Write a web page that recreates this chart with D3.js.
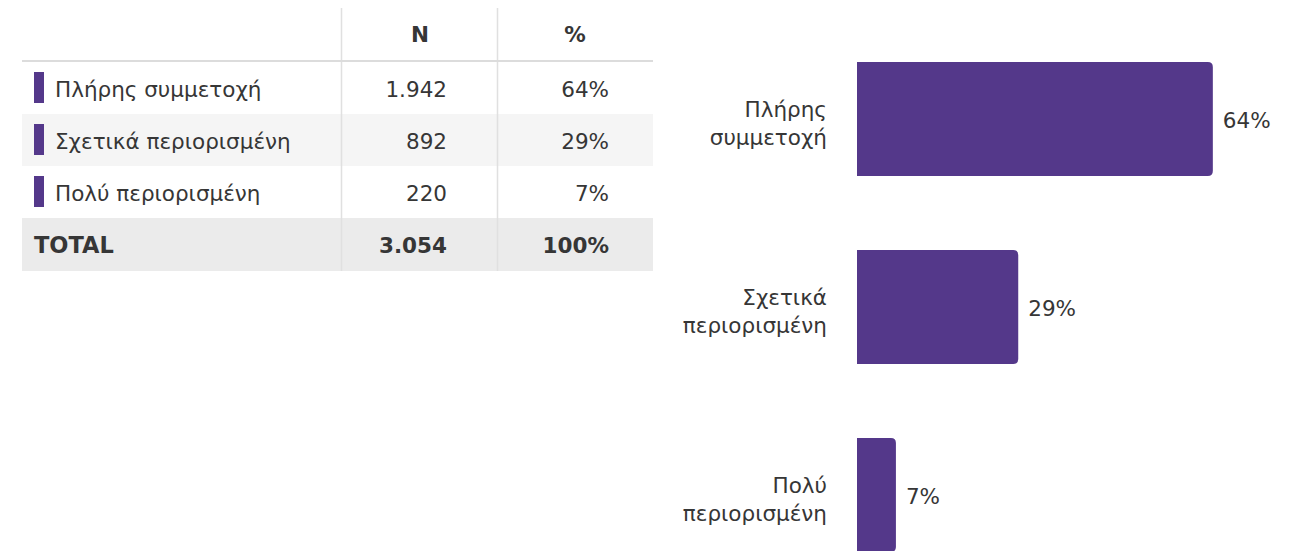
<!DOCTYPE html>
<html>
<head>
<meta charset="utf-8">
<script src="https://cdn.jsdelivr.net/npm/d3@7"></script>
<style>
  html, body { margin: 0; padding: 0; background: #fff; }
  svg { display: block; font-family: "DejaVu Sans", Verdana, sans-serif; }
</style>
</head>
<body>
<svg id="chart" width="1299" height="551"></svg>
<script>
// Participation levels
const categories = ["Πλήρης συμμετοχή", "Σχετικά περιορισμένη", "Πολύ περιορισμένη"];
const chartLabels = [["Πλήρης", "συμμετοχή"], ["Σχετικά", "περιορισμένη"], ["Πολύ", "περιορισμένη"]];
const counts = [1942, 892, 220];
const percents = [64, 29, 7];
const headers = ["N", "%"];
const totalLabel = "TOTAL";
const totalCount = 3054;
const totalPercent = 100;

const barColor = "#54388a";
const textColor = "#363636";
const fs = 21.5;
const fmtN = n => d3.format(",")(n).replace(/,/g, ".");

const svg = d3.select("#chart");

// ---------- Table ----------
const table = svg.append("g");
const tX0 = 22, tX1 = 653;
const colSep = [341, 497];
const headTop = 8, rowH = 52;
const rowY = i => 62 + i * rowH;

// row backgrounds
table.selectAll("rect.rowbg")
  .data(categories)
  .join("rect")
  .attr("x", tX0).attr("width", tX1 - tX0)
  .attr("y", (d, i) => rowY(i)).attr("height", rowH)
  .attr("fill", (d, i) => i % 2 === 1 ? "#f5f5f5" : "#fff");

table.append("rect")
  .attr("x", tX0).attr("width", tX1 - tX0)
  .attr("y", rowY(categories.length)).attr("height", rowH + 1)
  .attr("fill", "#ebebeb");

// column separators
table.selectAll("line.sep")
  .data(colSep)
  .join("line")
  .attr("x1", d => d + 0.5).attr("x2", d => d + 0.5)
  .attr("y1", headTop).attr("y2", rowY(categories.length) + rowH + 1)
  .attr("stroke", "#e0e0e0").attr("stroke-width", 1.5);

// header rule
table.append("rect")
  .attr("x", tX0).attr("width", tX1 - tX0)
  .attr("y", 60).attr("height", 2)
  .attr("fill", "#dcdcdc");

// header labels
const colCenters = [420, 575];
table.selectAll("text.head")
  .data(headers)
  .join("text")
  .attr("x", (d, i) => colCenters[i])
  .attr("y", 42.3)
  .attr("text-anchor", "middle")
  .attr("font-weight", "bold")
  .attr("font-size", fs)
  .attr("fill", textColor)
  .text(d => d);

const nRight = 447, pRight = 609;
const baseOff = 9; // baseline offset from row centre

const rows = table.selectAll("g.row")
  .data(categories)
  .join("g")
  .attr("transform", (d, i) => `translate(0,${rowY(i) + rowH / 2})`);

rows.append("rect")
  .attr("x", 34).attr("y", -16)
  .attr("width", 10).attr("height", 31)
  .attr("fill", barColor);

rows.append("text")
  .attr("x", 55).attr("y", baseOff)
  .attr("font-size", fs).attr("fill", textColor)
  .text(d => d);

rows.append("text")
  .attr("x", nRight).attr("y", baseOff)
  .attr("text-anchor", "end")
  .attr("font-size", fs).attr("fill", textColor)
  .text((d, i) => fmtN(counts[i]));

rows.append("text")
  .attr("x", pRight).attr("y", baseOff)
  .attr("text-anchor", "end")
  .attr("font-size", fs).attr("fill", textColor)
  .text((d, i) => percents[i] + "%");

const totalG = table.append("g")
  .attr("transform", `translate(0,${rowY(categories.length) + rowH / 2})`);
totalG.append("text")
  .attr("x", 34).attr("y", baseOff)
  .attr("font-size", 22.5).attr("font-weight", "bold").attr("fill", textColor)
  .text(totalLabel);
totalG.append("text")
  .attr("x", nRight).attr("y", baseOff).attr("text-anchor", "end")
  .attr("font-size", fs).attr("font-weight", "bold").attr("fill", textColor)
  .text(fmtN(totalCount));
totalG.append("text")
  .attr("x", pRight).attr("y", baseOff).attr("text-anchor", "end")
  .attr("font-size", fs).attr("font-weight", "bold").attr("fill", textColor)
  .text(totalPercent + "%");

// ---------- Bar chart ----------
const x = d3.scaleLinear().domain([0, 100]).range([857, 1413]);
const y = d3.scaleBand()
  .domain(categories)
  .range([62, 552])
  .paddingInner(74 / 188)
  .paddingOuter(0);

const r = 5;
function barPath(x0, x1, y0, h) {
  const rr = Math.min(r, (x1 - x0) / 2);
  return `M${x0},${y0}H${x1 - rr}Q${x1},${y0} ${x1},${y0 + rr}` +
         `V${y0 + h - rr}Q${x1},${y0 + h} ${x1 - rr},${y0 + h}H${x0}Z`;
}

const bars = svg.append("g");
bars.selectAll("path.bar")
  .data(categories)
  .join("path")
  .attr("d", (d, i) => barPath(x(0), x(percents[i]), y(d), y.bandwidth()))
  .attr("fill", barColor);

bars.selectAll("text.val")
  .data(categories)
  .join("text")
  .attr("x", (d, i) => x(percents[i]) + 10)
  .attr("y", d => y(d) + y.bandwidth() / 2 + baseOff)
  .attr("font-size", fs)
  .attr("fill", textColor)
  .text((d, i) => percents[i] + "%");

const lineH = 28.3;
const catLabels = bars.selectAll("text.cat")
  .data(categories)
  .join("text")
  .attr("text-anchor", "end")
  .attr("font-size", fs)
  .attr("fill", textColor);

catLabels.selectAll("tspan")
  .data((d, i) => chartLabels[i].map((t, j) => ({ t, j, c: y(d) + y.bandwidth() / 2 })))
  .join("tspan")
  .attr("x", 827)
  .attr("y", p => p.c - 2.3 + p.j * lineH)
  .text(p => p.t);
</script>
</body>
</html>
